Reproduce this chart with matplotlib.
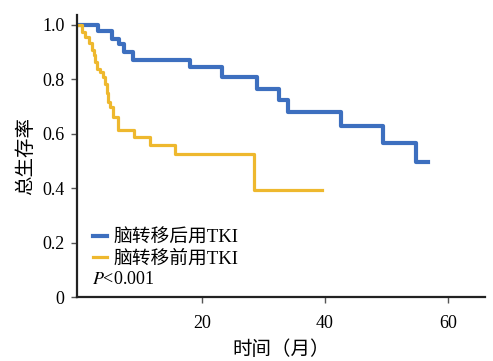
import matplotlib
matplotlib.use("Agg")
import matplotlib.pyplot as plt

plt.rcParams['font.family'] = ['Liberation Serif', 'Noto Sans CJK SC', 'DejaVu Sans']
plt.rcParams['mathtext.fontset'] = 'stix'

# survival curves (time in months, survival proportion)
after_t = [0, 3.2, 5.4, 6.5, 7.4, 8.8, 18.1, 23.2, 28.9, 32.6, 34.0, 42.6, 49.4, 54.7, 56.8]
after_s = [1.0, 0.976, 0.949, 0.928, 0.900, 0.872, 0.843, 0.808, 0.764, 0.725, 0.680, 0.629, 0.564, 0.497, 0.497]

before_t = [0, 0.5, 1.0, 1.6, 2.1, 2.4, 2.65, 2.9, 3.5, 4.0, 4.3, 4.55, 4.8, 5.1, 5.6, 6.4, 9.0, 11.5, 15.7, 28.4, 39.5]
before_s = [1.0, 0.973, 0.955, 0.931, 0.906, 0.888, 0.864, 0.839, 0.827, 0.808, 0.784, 0.748, 0.717, 0.698, 0.660, 0.615, 0.589, 0.558, 0.524, 0.392, 0.392]

labels = ['脑转移后用TKI', '脑转移前用TKI']
xticks = [20, 40, 60]
yticks = [0, 0.2, 0.4, 0.6, 0.8, 1.0]
ytick_labels = ['0', '0.2', '0.4', '0.6', '0.8', '1.0']

fig = plt.figure(figsize=(4.93, 3.61), dpi=100)
ax = fig.add_axes([0.156, 0.177, 0.828, 0.781])

ax.step(after_t, after_s, where='post', color='#3d6fbf', lw=3.0, label=labels[0])
ax.step(before_t, before_s, where='post', color='#eeb82e', lw=2.3, label=labels[1])

ax.set_xlim(-0.3, 66)
ax.set_ylim(0, 1.035)
ax.set_xticks(xticks)
ax.set_yticks(yticks)
ax.set_yticklabels(ytick_labels)
ax.tick_params(labelsize=13, length=4, width=1, color='#555555')
ax.tick_params(axis='x', pad=9)
ax.tick_params(axis='y', pad=5)
for s in ['top', 'right']:
    ax.spines[s].set_visible(False)
for s in ['left', 'bottom']:
    ax.spines[s].set_linewidth(1.6)
    ax.spines[s].set_color('#222222')

ax.set_xlabel('时间（月）', fontsize=14, labelpad=6)
ax.set_ylabel('总生存率', fontsize=14, labelpad=5)

ax.legend(loc='lower left', bbox_to_anchor=(0.022, 0.079), frameon=False, fontsize=13.5,
          handlelength=0.75, handletextpad=0.3, labelspacing=0.18, borderaxespad=0)
ax.text(0.038, 0.064, '$P$<0.001', transform=ax.transAxes, fontsize=13, va='center')

fig.savefig('out.png', dpi=100)
